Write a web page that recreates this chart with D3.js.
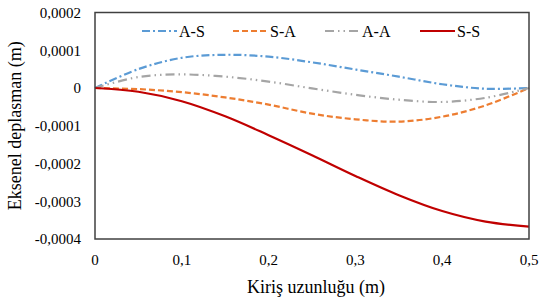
<!DOCTYPE html>
<html>
<head>
<meta charset="utf-8">
<script src="https://cdn.jsdelivr.net/npm/d3@7"></script>
<style>
  body { margin: 0; background: #fff; }
  text { font-family: "Liberation Serif", "Times New Roman", serif; fill: #000; }
</style>
</head>
<body>
<div id="chart"></div>
<script>
// beam position (m)
const xs = [0, 0.05, 0.1, 0.15, 0.2, 0.25, 0.3, 0.35, 0.4, 0.45, 0.5];
// axial displacement, units of 1e-4 m
const aS = [0, 0.5, 0.8, 0.88, 0.83, 0.68, 0.49, 0.3, 0.1, -0.02, 0];
const sA = [0, -0.03, -0.11, -0.25, -0.44, -0.68, -0.83, -0.89, -0.76, -0.46, 0];
const aA = [0, 0.29, 0.36, 0.3, 0.17, -0.01, -0.18, -0.31, -0.37, -0.26, 0];
const sS = [0, -0.1, -0.35, -0.75, -1.25, -1.78, -2.33, -2.84, -3.26, -3.54, -3.67];

const seriesNames = ['A-S', 'S-A', 'A-A', 'S-S'];
const yTicks = [0.0002, 0.0001, 0, -0.0001, -0.0002, -0.0003, -0.0004];
const xTicks = [0, 0.1, 0.2, 0.3, 0.4, 0.5];

const width = 542, height = 301;
const margin = { top: 12.5, right: 13, bottom: 62, left: 95 };

const svg = d3.select('#chart').append('svg')
  .attr('width', width)
  .attr('height', height);

const x = d3.scaleLinear().domain([0, 0.5]).range([margin.left, width - margin.right]);
const y = d3.scaleLinear().domain([-0.0004, 0.0002]).range([height - margin.bottom, margin.top]);

const comma = v => String(v).replace('.', ',');

// y tick labels
svg.selectAll('.ytick')
  .data(yTicks)
  .enter().append('text')
  .attr('x', 81)
  .attr('y', d => y(d))
  .attr('dy', '0.35em')
  .attr('text-anchor', 'end')
  .style('font-size', '15px')
  .text(d => d === 0 ? '0' : comma(d.toFixed(4)));

// x tick labels
svg.selectAll('.xtick')
  .data(xTicks)
  .enter().append('text')
  .attr('x', d => x(d))
  .attr('y', 265)
  .attr('text-anchor', 'middle')
  .style('font-size', '15px')
  .text(d => d === 0 ? '0' : comma(d.toFixed(1)));

// axis titles
svg.append('text')
  .attr('x', (x(0) + x(0.5)) / 2 + 4)
  .attr('y', 293)
  .attr('text-anchor', 'middle')
  .style('font-size', '18px')
  .text('Kiriş uzunluğu (m)');

svg.append('text')
  .attr('transform', `translate(21, ${(y(0.0002) + y(-0.0004)) / 2}) rotate(-90)`)
  .attr('text-anchor', 'middle')
  .style('font-size', '18px')
  .text('Eksenel deplasman (m)');

// series
const series = [
  { name: seriesNames[0], values: aS, color: '#5b9bd5', dash: '8,3,2,3' },
  { name: seriesNames[1], values: sA, color: '#ed7d31', dash: '6,3' },
  { name: seriesNames[2], values: aA, color: '#a5a5a5', dash: '9,4,1.5,4,1.5,4' },
  { name: seriesNames[3], values: sS, color: '#c00000', dash: null }
];

const line = d3.line()
  .x(d => x(d[0]))
  .y(d => y(d[1] * 1e-4))
  .curve(d3.curveCatmullRom);

svg.selectAll('.series')
  .data(series)
  .enter().append('path')
  .attr('fill', 'none')
  .attr('stroke', d => d.color)
  .attr('stroke-width', 2.2)
  .attr('stroke-dasharray', d => d.dash)
  .attr('d', d => line(xs.map((v, i) => [v, d.values[i]])));

// plot frame
svg.append('rect')
  .attr('x', x(0))
  .attr('y', y(0.0002))
  .attr('width', x(0.5) - x(0))
  .attr('height', y(-0.0004) - y(0.0002))
  .attr('fill', 'none')
  .attr('stroke', '#404040')
  .attr('stroke-width', 1.5);

// legend
const legendPos = [142, 233, 325, 420];
const legend = svg.selectAll('.legend')
  .data(series)
  .enter().append('g')
  .attr('transform', (d, i) => `translate(${legendPos[i]}, 31)`);

legend.append('line')
  .attr('x1', 0).attr('x2', 35)
  .attr('y1', 0).attr('y2', 0)
  .attr('stroke', d => d.color)
  .attr('stroke-width', 2.2)
  .attr('stroke-dasharray', d => d.dash);

legend.append('text')
  .attr('x', 37)
  .attr('dy', '0.35em')
  .style('font-size', '16px')
  .text(d => d.name);
</script>
</body>
</html>
